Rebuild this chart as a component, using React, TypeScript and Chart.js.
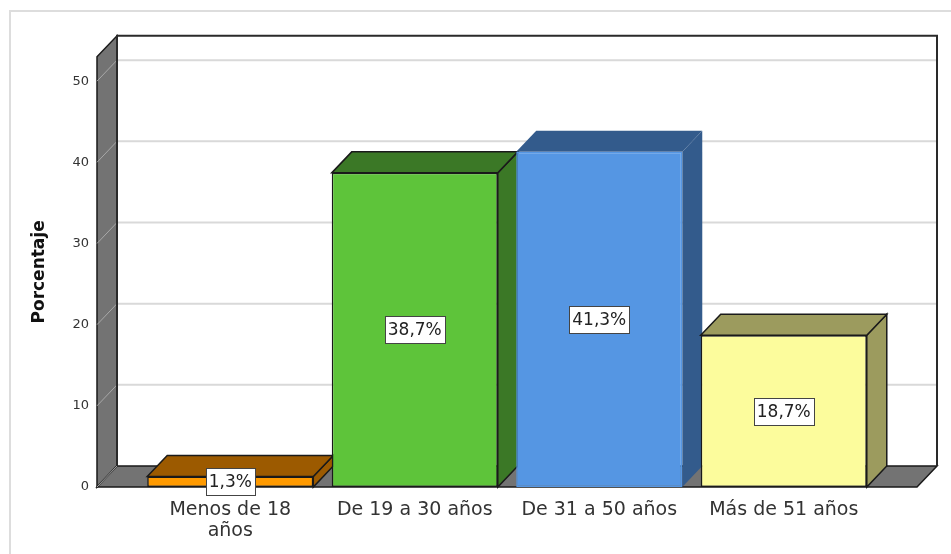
import { useEffect, useRef } from 'react';
import { Chart, registerables } from 'chart.js';

Chart.register(...registerables);

const categories: (string | string[])[] = [['Menos de 18', 'años'], 'De 19 a 30 años', 'De 31 a 50 años', 'Más de 51 años'];
const percentages = [1.3, 38.7, 41.3, 18.7];
const yTicks = [0, 10, 20, 30, 40, 50];
const yMax = 53;
const yTitle = 'Porcentaje';
const frontColors = ['#FF9A00', '#5EC43A', '#5596E3', '#FCFC9C'];
const shadeColors = ['#9C5A00', '#3B7826', '#335B8C', '#9C9B5E'];
const outlineColors = ['#1a1a1a', '#1a1a1a', '#5596E3', '#1a1a1a'];

const DX = 20;
const DY = 21;
const EXT = 41;
const FONT = '"DejaVu Sans", "Liberation Sans", Arial, sans-serif';

const fmt = (v: number) => v.toFixed(1).replace('.', ',') + '%';

const poly = (ctx: CanvasRenderingContext2D, pts: number[][], fill: string, stroke: string | null, lw = 1.5) => {
  ctx.beginPath();
  ctx.moveTo(pts[0][0], pts[0][1]);
  for (let i = 1; i < pts.length; i++) ctx.lineTo(pts[i][0], pts[i][1]);
  ctx.closePath();
  ctx.fillStyle = fill;
  ctx.fill();
  if (stroke) {
    ctx.strokeStyle = stroke;
    ctx.lineWidth = lw;
    ctx.lineJoin = 'miter';
    ctx.stroke();
  }
};

const spss3d = {
  id: 'spss3d',
  beforeDraw(chart: any) {
    const ctx = chart.ctx as CanvasRenderingContext2D;
    ctx.save();
    ctx.strokeStyle = '#dddddd';
    ctx.lineWidth = 2;
    ctx.beginPath();
    ctx.moveTo(10, chart.height);
    ctx.lineTo(10, 11);
    ctx.lineTo(chart.width, 11);
    ctx.stroke();
    ctx.restore();
  },
  beforeDatasetsDraw(chart: any) {
    const ctx = chart.ctx as CanvasRenderingContext2D;
    const { chartArea } = chart;
    const y = chart.scales.y;
    const L = chartArea.left - EXT;
    const R = chartArea.right + EXT;
    const T = chartArea.top;
    const B = y.getPixelForValue(0);
    ctx.save();
    // back wall gridlines
    ctx.strokeStyle = '#d9d9d9';
    ctx.lineWidth = 2;
    for (const v of yTicks) {
      if (v === 0) continue;
      const py = y.getPixelForValue(v);
      ctx.beginPath();
      ctx.moveTo(L + DX, py - DY);
      ctx.lineTo(R + DX, py - DY);
      ctx.stroke();
    }
    // left wall
    poly(ctx, [[L, T], [L + DX, T - DY], [L + DX, B - DY], [L, B]], '#737373', '#1a1a1a', 1.5);
    ctx.strokeStyle = '#a8a8a8';
    ctx.lineWidth = 1;
    for (const v of yTicks) {
      if (v === 0) continue;
      const py = y.getPixelForValue(v);
      ctx.beginPath();
      ctx.moveTo(L, py);
      ctx.lineTo(L + DX, py - DY);
      ctx.stroke();
    }
    // floor
    poly(ctx, [[L, B], [L + DX, B - DY], [R + DX, B - DY], [R, B]], '#737373', '#1a1a1a', 1.5);
    ctx.strokeStyle = '#a8a8a8';
    ctx.lineWidth = 1;
    ctx.beginPath();
    ctx.moveTo(L, B);
    ctx.lineTo(L + DX, B - DY);
    ctx.stroke();
    // back wall edges
    ctx.strokeStyle = '#2a2a2a';
    ctx.lineWidth = 2;
    ctx.beginPath();
    ctx.moveTo(L + DX, B - DY);
    ctx.lineTo(L + DX, T - DY);
    ctx.lineTo(R + DX, T - DY);
    ctx.lineTo(R + DX, B - DY);
    ctx.stroke();
    // bar 3d faces
    const meta = chart.getDatasetMeta(0);
    meta.data.forEach((bar: any, i: number) => {
      const w = bar.width;
      const left = bar.x - w / 2;
      const right = bar.x + w / 2;
      const top = bar.y;
      const bottom = bar.base;
      const stroke = outlineColors[i] === frontColors[i] ? null : outlineColors[i];
      poly(ctx, [[right, top], [right + DX, top - DY], [right + DX, bottom - DY], [right, bottom]], shadeColors[i], stroke, 1.5);
      poly(ctx, [[left, top], [left + DX, top - DY], [right + DX, top - DY], [right, top]], shadeColors[i], stroke, 1.5);
    });
    ctx.restore();
  },
  afterDatasetsDraw(chart: any) {
    const ctx = chart.ctx as CanvasRenderingContext2D;
    const meta = chart.getDatasetMeta(0);
    ctx.save();
    ctx.font = `17px ${FONT}`;
    ctx.textAlign = 'center';
    ctx.textBaseline = 'middle';
    meta.data.forEach((bar: any, i: number) => {
      const text = fmt(percentages[i]);
      const cx = bar.x;
      const cy = (bar.y + bar.base) / 2;
      const tw = ctx.measureText(text).width;
      const bw = Math.round(tw + 6);
      const bh = 27;
      const bx = Math.round(cx - bw / 2) + 0.5;
      const by = Math.round(cy - bh / 2) + 0.5;
      ctx.fillStyle = '#ffffff';
      ctx.fillRect(bx, by, bw, bh);
      ctx.strokeStyle = '#444444';
      ctx.lineWidth = 1;
      ctx.strokeRect(bx, by, bw, bh);
      ctx.fillStyle = '#222222';
      ctx.fillText(text, cx, cy + 1);
    });
    ctx.restore();
  },
};

export default function App() {
  const ref = useRef<HTMLCanvasElement | null>(null);
  useEffect(() => {
    if (!ref.current) return;
    const chart = new Chart(ref.current, {
      type: 'bar',
      data: {
        labels: categories as any,
        datasets: [
          {
            data: percentages,
            backgroundColor: frontColors,
            borderColor: outlineColors,
            borderWidth: 1.5,
            borderSkipped: false,
            barPercentage: 0.9,
            categoryPercentage: 1,
          },
        ],
      },
      options: {
        animation: false,
        responsive: false,
        maintainAspectRatio: false,
        layout: { padding: { left: 0, right: 75, top: 54, bottom: 0 } },
        plugins: { legend: { display: false }, tooltip: { enabled: false } },
        scales: {
          x: {
            grid: { display: false, drawTicks: false },
            border: { display: false },
            ticks: {
              autoSkip: false,
              maxRotation: 0,
              padding: 13,
              color: '#333333',
              font: { family: FONT, size: 19, lineHeight: 1.1 },
            },
            afterFit: (scale: any) => {
              scale.height = 67;
            },
          },
          y: {
            min: 0,
            max: yMax,
            grid: { display: false, drawTicks: false },
            border: { display: false },
            ticks: {
              padding: 49,
              color: '#333333',
              font: { family: FONT, size: 13 },
            },
            afterBuildTicks: (scale: any) => {
              scale.ticks = yTicks.map((v) => ({ value: v }));
            },
            afterFit: (scale: any) => {
              scale.width = 138;
            },
            title: {
              display: true,
              text: yTitle,
              color: '#111111',
              padding: { top: 29, bottom: 0 },
              font: { family: FONT, size: 17, weight: 'bold' },
            },
          },
        },
      },
      plugins: [spss3d],
    });
    return () => chart.destroy();
  }, []);
  return (
    <div style={{ position: 'fixed', left: 0, top: 0, width: 951, height: 554, background: '#ffffff' }}>
      <canvas ref={ref} width={951} height={554} style={{ display: 'block' }} />
    </div>
  );
}
